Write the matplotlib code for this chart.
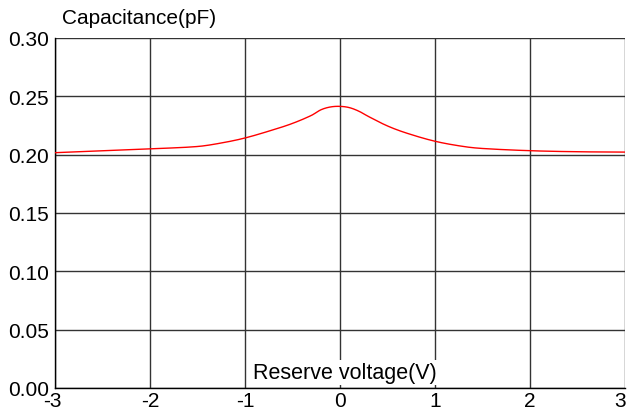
import matplotlib
matplotlib.use("Agg")
import matplotlib.pyplot as plt
import matplotlib.transforms as mtransforms
import numpy as np

plt.rcParams['font.family'] = ['Liberation Sans', 'DejaVu Sans']

voltage = [-3, -2.5, -2, -1.5, -1.25, -1, -0.7, -0.5, -0.3, -0.2, -0.1, 0, 0.1, 0.2, 0.3, 0.5, 0.7, 1.0, 1.3, 1.5, 2, 2.5, 3]
capacitance = [0.2017, 0.2033, 0.2050, 0.2070, 0.2100, 0.2143, 0.2214, 0.2268, 0.2337, 0.2385, 0.2409, 0.2414, 0.2403, 0.2372, 0.2327, 0.2246, 0.2185, 0.2115, 0.2070, 0.2053, 0.2034, 0.2025, 0.2022]
xticks = [-3, -2, -1, 0, 1, 2, 3]
yticks = [0.00, 0.05, 0.10, 0.15, 0.20, 0.25, 0.30]

W, H = 628, 414
fig = plt.figure(figsize=(W/100, H/100), dpi=100)
x0, x1, ytop, ybot = 55, 625, 39, 389
ax = fig.add_axes([x0/W, 1 - ybot/H, (x1-x0)/W, (ybot-ytop)/H])

def hermite(xp, yp, xq):
    xp = np.asarray(xp, float); yp = np.asarray(yp, float)
    n = len(xp)
    m = np.zeros(n)
    for i in range(n):
        if i == 0:
            m[i] = (yp[1]-yp[0])/(xp[1]-xp[0])
        elif i == n-1:
            m[i] = (yp[-1]-yp[-2])/(xp[-1]-xp[-2])
        else:
            m[i] = (yp[i+1]-yp[i-1])/(xp[i+1]-xp[i-1])
    out = np.empty_like(xq)
    for j, x in enumerate(xq):
        k = min(max(np.searchsorted(xp, x) - 1, 0), n-2)
        h = xp[k+1]-xp[k]
        t = (x - xp[k])/h
        h00 = 2*t**3-3*t**2+1; h10 = t**3-2*t**2+t
        h01 = -2*t**3+3*t**2; h11 = t**3-t**2
        out[j] = h00*yp[k]+h10*h*m[k]+h01*yp[k+1]+h11*h*m[k+1]
    return out

xs = np.linspace(-3, 3, 601)
ys = hermite(voltage, capacitance, xs)
ax.plot(xs, ys, color='#ff0000', lw=1.0, zorder=3)

FS = 15
ax.set_xlim(-3, 3)
ax.set_ylim(0, 0.30)
ax.set_xticks(xticks)
ax.set_yticks(yticks)
ax.set_xticklabels([str(t) for t in xticks])
ax.set_yticklabels([f"{t:.2f}" for t in yticks])
ax.tick_params(length=0, labelsize=FS, colors='black')
ax.tick_params(axis='y', pad=4.5)
ax.tick_params(axis='x', pad=2.5)
lbls = ax.get_xticklabels()
lbls[-1].set_transform(lbls[-1].get_transform() + mtransforms.ScaledTranslation(-5/100, 0, fig.dpi_scale_trans))
lbls[0].set_transform(lbls[0].get_transform() + mtransforms.ScaledTranslation(-3/100, 0, fig.dpi_scale_trans))

ax.grid(True, color='#333333', lw=1.0)
ax.set_axisbelow(True)
for s in ['top', 'right']:
    ax.spines[s].set_visible(False)
for s in ['left', 'bottom']:
    ax.spines[s].set_color('black')
    ax.spines[s].set_linewidth(1.0)

fig.text(62/W, 1 - 18/H, 'Capacitance(pF)', fontsize=FS, va='center', ha='left')
ax.text(0.05, 0.004, 'Reserve voltage(V)', fontsize=FS + 0.5, ha='center', va='bottom',
        bbox=dict(facecolor='white', edgecolor='none', pad=1.5), zorder=4)

fig.savefig('out.png', dpi=100)
